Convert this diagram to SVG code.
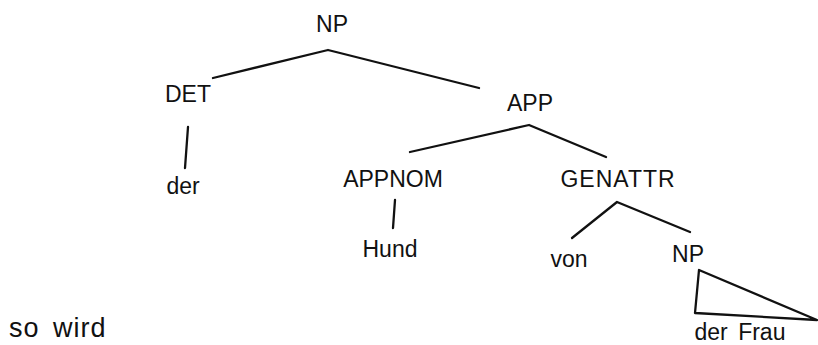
<svg xmlns="http://www.w3.org/2000/svg" width="818" height="345" viewBox="0 0 818 345">
  <style>
    .lbl { font-family: "Liberation Sans", Arial, sans-serif; font-size: 23px; fill: #111; text-anchor: middle; }
    .big { font-family: "Liberation Sans", Arial, sans-serif; font-size: 27px; fill: #111; letter-spacing: 1px; }
    .edge { stroke: #111; stroke-width: 2.3; fill: none; stroke-linecap: round; stroke-linejoin: round; }
  </style>
  <rect width="818" height="345" fill="#fff"/>
  <g id="connectors">
    <polyline class="edge" points="213,78 328,50 340,53 479,88"/>
    <line class="edge" x1="188" y1="127" x2="185" y2="168"/>
    <polyline class="edge" points="410,152 529,125 606,157"/>
    <line class="edge" x1="395" y1="200" x2="393" y2="228"/>
    <polyline class="edge" points="572,238 617,202 690,232"/>
    <polygon class="edge" points="699,270 695,313 817,320"/>
  </g>
  <g id="n-np"><text class="lbl" x="332" y="32">NP</text></g>
  <g id="n-det"><text class="lbl" x="188" y="102">DET</text></g>
  <g id="n-app"><text class="lbl" x="530" y="111">APP</text></g>
  <g id="n-der"><text class="lbl" x="183" y="194">der</text></g>
  <g id="n-appnom"><text class="lbl" x="393" y="187">APPNOM</text></g>
  <g id="n-genattr"><text class="lbl" x="618" y="187" style="letter-spacing:1px">GENATTR</text></g>
  <g id="n-hund"><text class="lbl" x="390" y="257">Hund</text></g>
  <g id="n-von"><text class="lbl" x="569" y="267">von</text></g>
  <g id="n-np2"><text class="lbl" x="688" y="262">NP</text></g>
  <g id="n-derfrau"><text class="lbl" x="740" y="340" word-spacing="4">der Frau</text></g>
  <g id="n-sowird"><text class="big" y="337"><tspan x="9">so</tspan><tspan x="53">wird</tspan></text></g>
</svg>
